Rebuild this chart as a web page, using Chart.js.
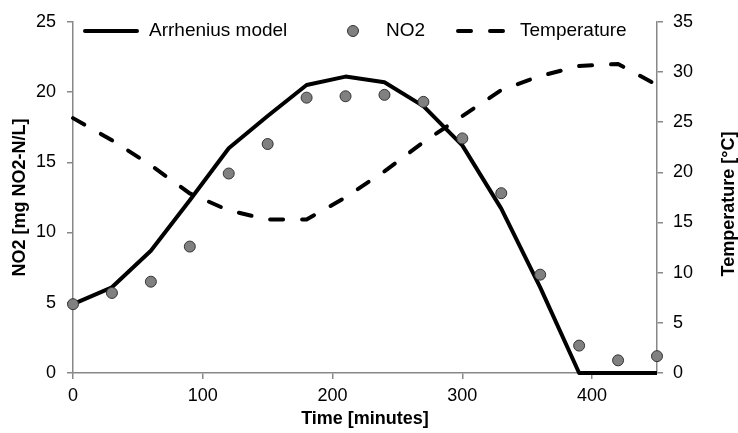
<!DOCTYPE html>
<html>
<head>
<meta charset="utf-8">
<script src="https://cdn.jsdelivr.net/npm/chart.js@4/dist/chart.umd.min.js"></script>
<style>
  html, body { margin: 0; padding: 0; background: #fff; }
  #wrap { width: 738px; height: 433px; }
</style>
</head>
<body>
<div id="wrap"><canvas id="chart"></canvas></div>
<script>
// time axis (minutes)
const times = [0, 30, 60, 90, 120, 150, 180, 210, 240, 270, 300, 330, 360, 390, 420, 450];
// model curve, NO2 [mg NO2-N/L]
const arrhenius = [4.9, 6.1, 8.7, 12.3, 16.0, 18.3, 20.5, 21.1, 20.7, 19.0, 16.2, 11.7, 6.1, 0, 0, 0];
// measured NO2
const no2 = [4.9, 5.7, 6.5, 9.0, 14.2, 16.3, 19.6, 19.7, 19.8, 19.3, 16.7, 12.8, 7.0, 1.95, 0.9, 1.2];
// temperature [°C], right axis
const temperature = [25.4, 23.2, 20.7, 17.9, 16.2, 15.3, 15.3, 17.5, 20.1, 23.0, 25.6, 28.2, 29.6, 30.6, 30.8, 28.7];

const xTicks = [0, 100, 200, 300, 400];
const yTicks = [0, 5, 10, 15, 20, 25];
const y2Ticks = [0, 5, 10, 15, 20, 25, 30, 35];

const FONT = "'Liberation Sans', Arial, sans-serif";
const AXIS = "#888888";
const DASH = [13, 19];

function pts(values) {
  return times.map((t, i) => ({ x: t, y: values[i] }));
}

// legend drawn by hand (mixed line / dashed line / dot)
const legendPlugin = {
  id: "handLegend",
  afterDraw(chart) {
    const ctx = chart.ctx;
    const y = 31;
    ctx.save();
    ctx.font = "19px " + FONT;
    ctx.fillStyle = "#000";
    ctx.textBaseline = "middle";

    ctx.strokeStyle = "#000";
    ctx.lineWidth = 4;
    ctx.lineCap = "round";
    ctx.beginPath();
    ctx.moveTo(85, y);
    ctx.lineTo(137, y);
    ctx.stroke();
    ctx.fillText("Arrhenius model", 149, y);

    ctx.beginPath();
    ctx.arc(353, y, 5.5, 0, Math.PI * 2);
    ctx.fillStyle = "#808080";
    ctx.fill();
    ctx.lineWidth = 1;
    ctx.strokeStyle = "#333";
    ctx.stroke();
    ctx.fillStyle = "#000";
    ctx.fillText("NO2", 386, y);

    ctx.lineWidth = 4;
    ctx.strokeStyle = "#000";
    ctx.setLineDash(DASH);
    ctx.beginPath();
    ctx.moveTo(458, y);
    ctx.lineTo(505, y);
    ctx.stroke();
    ctx.setLineDash([]);
    ctx.fillText("Temperature", 520, y);

    // right axis title, reading bottom to top
    ctx.font = "bold 18px " + FONT;
    ctx.textAlign = "center";
    ctx.translate(729, 204);
    ctx.rotate(-Math.PI / 2);
    ctx.fillText("Temperature [°C]", 0, 0);
    ctx.restore();
  },
};

new Chart(document.getElementById("chart"), {
  type: "line",
  data: {
    datasets: [
      {
        label: "NO2",
        data: pts(no2),
        yAxisID: "y",
        showLine: false,
        pointRadius: 5.5,
        pointHoverRadius: 5.5,
        pointBackgroundColor: "#808080",
        pointBorderColor: "#333333",
        pointBorderWidth: 1,
        clip: false,
        order: 0,
      },
      {
        label: "Arrhenius model",
        data: pts(arrhenius),
        yAxisID: "y",
        borderColor: "#000",
        borderWidth: 4,
        pointRadius: 0,
        tension: 0,
        borderJoinStyle: "round",
        clip: false,
        order: 1,
      },
      {
        label: "Temperature",
        data: pts(temperature),
        yAxisID: "y1",
        borderColor: "#000",
        borderWidth: 4,
        borderDash: DASH,
        borderCapStyle: "round",
        pointRadius: 0,
        tension: 0,
        clip: false,
        order: 2,
      },
    ],
  },
  options: {
    responsive: true,
    maintainAspectRatio: false,
    animation: false,
    layout: { padding: { top: 18, left: 0, right: 0, bottom: 0 } },
    plugins: {
      legend: { display: false },
      tooltip: { enabled: false },
    },
    scales: {
      x: {
        type: "linear",
        min: 0,
        max: 450,
        afterBuildTicks: (s) => { s.ticks = xTicks.map((v) => ({ value: v })); },
        afterFit: (s) => { s.height = 60; },
        grid: { drawOnChartArea: false, tickLength: 6, color: AXIS, lineWidth: 1.5 },
        border: { color: AXIS, width: 1.5 },
        ticks: { color: "#000", font: { family: FONT, size: 18 }, padding: 6, maxRotation: 0 },
        title: {
          display: true,
          text: "Time [minutes]",
          color: "#000",
          font: { family: FONT, size: 18, weight: "bold" },
          padding: { top: 0, bottom: 3 },
        },
      },
      y: {
        position: "left",
        min: 0,
        max: 25,
        afterBuildTicks: (s) => { s.ticks = yTicks.map((v) => ({ value: v })); },
        afterFit: (s) => { s.width = 73; },
        grid: { drawOnChartArea: false, tickLength: 6, color: AXIS, lineWidth: 1.5 },
        border: { color: AXIS, width: 1.5 },
        ticks: { color: "#000", font: { family: FONT, size: 18 }, padding: 11 },
        title: {
          display: true,
          text: "NO2 [mg NO2-N/L]",
          color: "#000",
          font: { family: FONT, size: 18, weight: "bold" },
          padding: { top: 9, bottom: 0 },
        },
      },
      y1: {
        position: "right",
        min: 0,
        max: 35,
        afterBuildTicks: (s) => { s.ticks = y2Ticks.map((v) => ({ value: v })); },
        afterFit: (s) => { s.width = 81; },
        grid: { drawOnChartArea: false, tickLength: 6, color: AXIS, lineWidth: 1.5 },
        border: { color: AXIS, width: 1.5 },
        ticks: { color: "#000", font: { family: FONT, size: 18 }, padding: 10 },
      },
    },
  },
  plugins: [legendPlugin],
});
</script>
</body>
</html>
